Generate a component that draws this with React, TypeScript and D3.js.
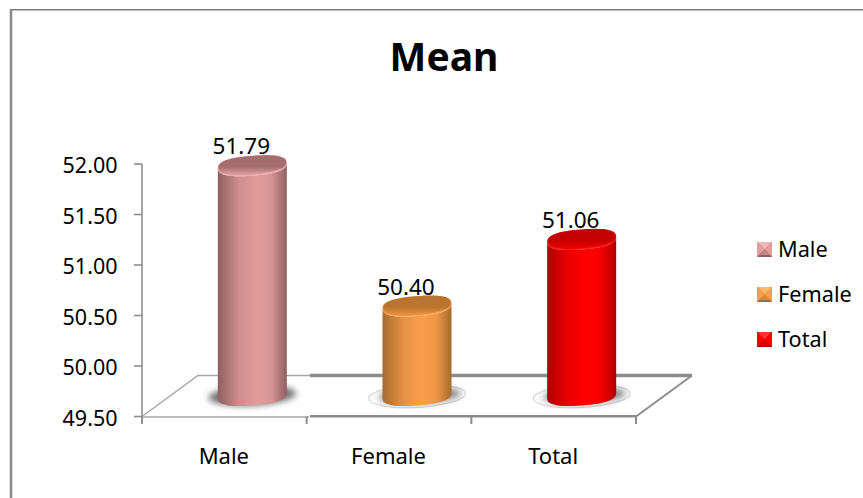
import React from "react";
import * as d3 from "d3";

const categories = ["Male", "Female", "Total"];
const meanValues = [51.79, 50.4, 51.06];
const valueLabels = ["51.79", "50.40", "51.06"];
const yTicks = [49.5, 50, 50.5, 51, 51.5, 52];
const palette = [
  { edge: "#8f6060", mid: "#e49c9c", top: "#a56d6d", rim: "#d99a9a", hi: "#f0b8b8" },
  { edge: "#a56a2c", mid: "#fb9e4c", top: "#b9752f", rim: "#e88f3f", hi: "#ffb866" },
  { edge: "#b00000", mid: "#ff0000", top: "#c40000", rim: "#ee0000", hi: "#ff3030" },
];

const FONT = "'Noto Sans', sans-serif";
const AXIS = "#8c8c8c";
const AXIS_LIGHT = "#a6a6a6";

const x = d3.scaleBand().domain(categories).range([142, 636]);
const y = d3.scaleLinear().domain([49.5, 52]).range([416.5, 164]);
const DEPTH_X = 56;
const DEPTH_Y = 41;
const CAP_LIFT = 19.5;
const BASE_LIFT = 21;
const BAR_W = 69;

/** Point on the tilted, slightly squared cap outline of a cylinder. */
function capPoint(cx: number, cy: number, t: number, rx = BAR_W / 2, ry = 10) {
  const tilt = -0.075;
  const power = 0.8;
  const c = Math.cos(t);
  const s = Math.sin(t);
  const ex = rx * Math.sign(c) * Math.pow(Math.abs(c), power);
  const ey = ry * Math.sign(s) * Math.pow(Math.abs(s), power);
  return [cx + ex, cy + ey + ex * tilt];
}

function capPath(cx: number, cy: number, rx?: number, ry?: number) {
  const pts = d3.range(0, 73).map((i) => capPoint(cx, cy, (i / 72) * 2 * Math.PI, rx, ry));
  return d3.line()(pts as [number, number][]) + "Z";
}

function bodyPath(cx: number, top: number, bottom: number) {
  const front = d3.range(0, 37).map((i) => capPoint(cx, bottom, (i / 36) * Math.PI));
  const upper = d3.range(0, 37).map((i) => capPoint(cx, top, Math.PI - (i / 36) * Math.PI));
  return d3.line()([...front, ...upper] as [number, number][]) + "Z";
}

function Cylinder({ index }: { index: number }) {
  const name = categories[index];
  const c = palette[index];
  const cx = (x(name) as number) + x.bandwidth() / 2 + DEPTH_X / 2;
  const top = y(meanValues[index]) - CAP_LIFT;
  const bottom = y(49.5) - BASE_LIFT;
  return (
    <g>
      {index > 0 && (
        <ellipse cx={cx} cy={bottom + 0.5} rx={48.5} ry={11.5} transform={`rotate(-3 ${cx} ${bottom})`} fill="#fafafa" stroke="#d2d2d2" strokeWidth={1} />
      )}
      <ellipse
        cx={cx + (index > 0 ? 3 : 0)}
        cy={bottom}
        rx={index > 0 ? 41 : 44}
        ry={index > 0 ? 8.5 : 10}
        transform={`rotate(-3 ${cx} ${bottom})`}
        fill="#4a4a4a"
        opacity={index > 0 ? 0.6 : 0.78}
        filter="url(#floorShadow)"
      />
      <path d={bodyPath(cx, top, bottom)} fill={`url(#body${index})`} />
      <path d={capPath(cx, top)} fill={c.rim} />
      <path d={capPath(cx, top - 1, 33.8, 8.8)} fill={`url(#cap${index})`} />
      <path
        d={d3.line()(d3.range(7, 30).map((i) => capPoint(cx, top - 0.6, (i / 36) * Math.PI)) as [number, number][]) as string}
        fill="none"
        stroke={c.hi}
        strokeWidth={1}
        opacity={0.75}
      />
      <text x={cx - 11} y={top - 11.5} textAnchor="middle" fontFamily={FONT} fontSize={22.5} fill="#000">
        {valueLabels[index]}
      </text>
    </g>
  );
}

export default function App() {
  const base = y(49.5);
  const floorBack = base - DEPTH_Y;
  const breakX = 310;
  const firstX = x.range()[0];
  const lastX = x.range()[1];
  const ticksX = [...categories.map((d) => x(d) as number), lastX];
  return (
    <svg width={863} height={498} style={{ position: "absolute", left: 0, top: 0, background: "#fff" }}>
      <defs>
        {palette.map((c, i) => (
          <linearGradient key={i} id={`body${i}`} x1="0" x2="1" y1="0" y2="0">
            <stop offset="0" stopColor={c.edge} />
            <stop offset="0.3" stopColor={d3.interpolateRgb(c.edge, c.mid)(0.75)} />
            <stop offset="0.58" stopColor={c.mid} />
            <stop offset="0.78" stopColor={d3.interpolateRgb(c.edge, c.mid)(0.85)} />
            <stop offset="1" stopColor={c.edge} />
          </linearGradient>
        ))}
        {palette.map((c, i) => (
          <linearGradient key={i} id={`cap${i}`} x1="0" x2="0" y1="0" y2="1">
            <stop offset="0" stopColor={c.top} />
            <stop offset="0.6" stopColor={c.top} />
            <stop offset="1" stopColor={c.rim} />
          </linearGradient>
        ))}
        <filter id="floorShadow" x="-30%" y="-60%" width="160%" height="220%">
          <feGaussianBlur stdDeviation="3" />
        </filter>
      </defs>

      {/* Frame around the plot object: only its top and left edges remain */}
      <line x1={10} x2={863} y1={9.5} y2={9.5} stroke="#7a7a7a" strokeWidth={1} />
      <line x1={10} x2={863} y1={10.5} y2={10.5} stroke="#bdbdbd" strokeWidth={1} />
      <line x1={11} x2={11} y1={9} y2={498} stroke="#8a8a8a" strokeWidth={2.6} />

      <text x={444} y={71} textAnchor="middle" fontFamily={FONT} fontWeight={700} fontSize={39} fill="#000">
        Mean
      </text>

      {/* Floor of the 3-D plot */}
      <path d={`M${firstX},${base} L${firstX + DEPTH_X},${floorBack} H${breakX}`} fill="none" stroke={AXIS_LIGHT} strokeWidth={1.5} />
      <line x1={breakX} x2={lastX + DEPTH_X} y1={floorBack} y2={floorBack} stroke={AXIS} strokeWidth={3.4} />
      <line x1={lastX + DEPTH_X} y1={floorBack} x2={lastX} y2={base} stroke={AXIS} strokeWidth={2} />

      {/* Value axis */}
      <line x1={142} x2={142} y1={y(52)} y2={base} stroke={AXIS_LIGHT} strokeWidth={2} />
      {yTicks.map((t) => (
        <g key={t}>
          <line x1={134} x2={142} y1={y(t)} y2={y(t)} stroke={AXIS} strokeWidth={1.6} />
          <text x={117.5} y={y(t) + 9} textAnchor="end" fontFamily={FONT} fontSize={21.5} fill="#000">
            {d3.format(".2f")(t)}
          </text>
        </g>
      ))}

      {/* Category axis */}
      <line x1={firstX} x2={breakX - 1} y1={base + 0.5} y2={base + 0.5} stroke={AXIS_LIGHT} strokeWidth={1.5} />
      <line x1={breakX} x2={lastX} y1={base - 0.3} y2={base - 0.3} stroke={AXIS} strokeWidth={2.6} />
      {ticksX.map((t, i) => (
        <line key={i} x1={t} x2={t} y1={base} y2={424} stroke={AXIS} strokeWidth={2} />
      ))}
      {categories.map((c) => (
        <text key={c} x={(x(c) as number) + x.bandwidth() / 2 - 0.5} y={464} textAnchor="middle" fontFamily={FONT} fontSize={22} fill="#000">
          {c}
        </text>
      ))}

      {categories.map((c, i) => (
        <Cylinder key={c} index={i} />
      ))}

      {/* Legend with bevelled swatches */}
      {categories.map((c, i) => {
        const ly = 249.5 + i * 45;
        const p = palette[i];
        const s = 7.5;
        const lx = 764.5;
        const inset = 2;
        return (
          <g key={c}>
            <rect x={lx - s} y={ly - s} width={2 * s} height={2 * s} fill={p.edge} />
            <path d={`M${lx - s},${ly - s} L${lx},${ly} L${lx + s},${ly - s} Z`} fill={p.hi} />
            <path d={`M${lx - s},${ly - s} L${lx},${ly} L${lx - s},${ly + s} Z`} fill={p.mid} />
            <path d={`M${lx + s},${ly - s} L${lx},${ly} L${lx + s},${ly + s} Z`} fill={p.mid} />
            <path d={`M${lx - s + inset},${ly + s - inset} L${lx},${ly} L${lx + s - inset},${ly + s - inset} Z`} fill={d3.interpolateRgb(p.edge, p.mid)(0.6)} />
            <text x={778} y={ly + 7} fontFamily={FONT} fontSize={21.7} fill="#000">
              {c}
            </text>
          </g>
        );
      })}
    </svg>
  );
}
